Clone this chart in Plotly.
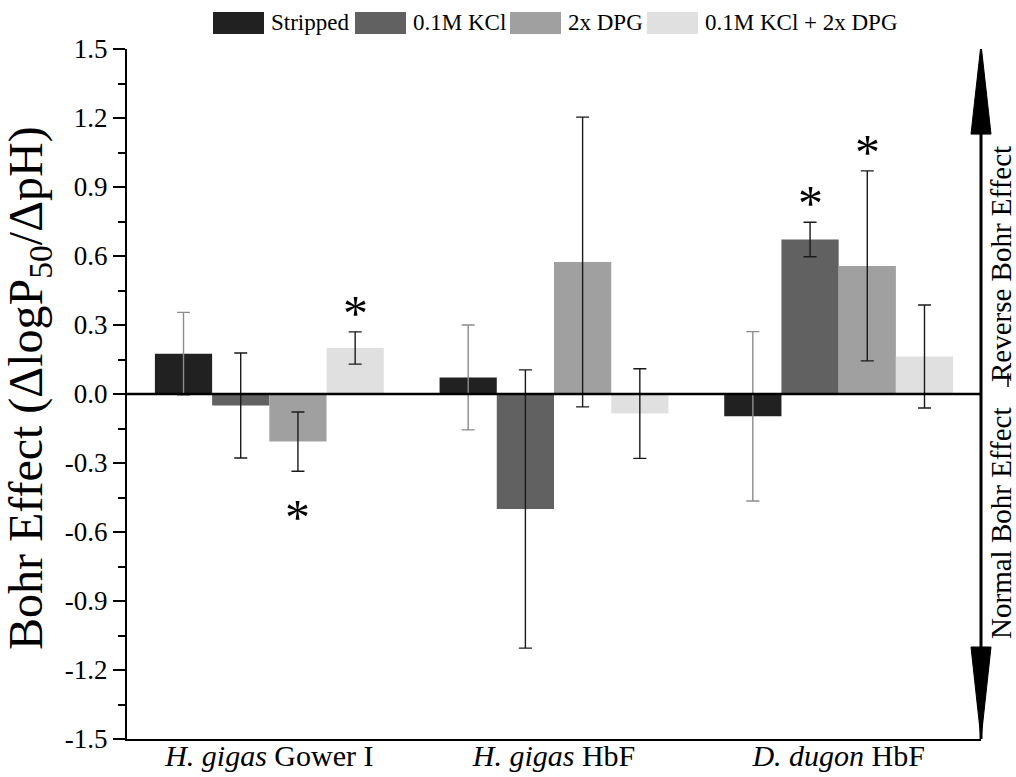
import plotly.graph_objects as go

# ---- data -------------------------------------------------------------
groups = ["<i>H. gigas</i> Gower I", "<i>H. gigas</i> HbF", "<i>D. dugon</i> HbF"]
series = ["Stripped", "0.1M KCl", "2x DPG", "0.1M KCl + 2x DPG"]

stripped = [0.175, 0.072, -0.097]
stripped_err = [0.180, 0.228, 0.368]
kcl = [-0.050, -0.500, 0.672]
kcl_err = [0.228, 0.605, 0.075]
dpg = [-0.207, 0.574, 0.557]
dpg_err = [0.129, 0.630, 0.413]
kcl_dpg = [0.200, -0.085, 0.163]
kcl_dpg_err = [0.070, 0.195, 0.224]

# significance marks: (group index, series index, side of the bar)
significant = [(0, 3, "up"), (0, 2, "down"), (2, 1, "up"), (2, 2, "up")]

y_ticks = [-1.5, -1.2, -0.9, -0.6, -0.3, 0.0, 0.3, 0.6, 0.9, 1.2, 1.5]
y_tick_text = ["-1.5", "-1.2", "-0.9", "-0.6", "-0.3", "0.0", "0.3", "0.6", "0.9", "1.2", "1.5"]

# ---- styling ----------------------------------------------------------
FONT = "Times New Roman, Liberation Serif, Tinos, serif"
fills = ["#212121", "#616161", "#a0a0a0", "#e0e0e0"]
err_colors = ["#8c8c8c", "#1a1a1a", "#1a1a1a", "#1a1a1a"]
values = [stripped, kcl, dpg, kcl_dpg]
errors = [stripped_err, kcl_err, dpg_err, kcl_dpg_err]

W, H = 1016, 777
L, R, T, B = 127, 35, 49, 38
PW, PH = W - L - R, H - T - B
BARGAP = 0.196


def px_x(x):
    return (x - L) / PW


def px_y(y):
    return (H - B - y) / PH


fig = go.Figure()
for name, vals, errs, fill, ecol in zip(series, values, errors, fills, err_colors):
    fig.add_trace(go.Bar(
        name=name, x=groups, y=vals,
        marker=dict(color=fill, line=dict(width=0)),
        error_y=dict(type="data", array=errs, visible=True,
                     color=ecol, thickness=1.4, width=6.5),
        showlegend=False,
    ))

shapes = []
annotations = []

# heavy zero line drawn over the bars
shapes.append(dict(type="line", xref="paper", yref="y", x0=0, x1=1, y0=0, y1=0,
                   line=dict(color="black", width=2.5), layer="above"))

# right-hand double arrow
shapes.append(dict(type="line", xref="paper", yref="y", x0=1, x1=1, y0=-1.5, y1=1.45,
                   line=dict(color="black", width=3), layer="above"))
hw = 10 / PW
shapes.append(dict(type="path", xref="paper", yref="y", layer="above",
                   path=f"M {1 - hw},1.13 L 1,1.52 L {1 + hw},1.13 Z",
                   fillcolor="black", line=dict(color="black", width=1)))
shapes.append(dict(type="path", xref="paper", yref="y", layer="above",
                   path=f"M {1 - hw},-1.10 L 1,-1.50 L {1 + hw},-1.10 Z",
                   fillcolor="black", line=dict(color="black", width=1)))
shapes.append(dict(type="line", xref="paper", yref="y", x0=px_x(1008), x1=px_x(1008),
                   y0=0.03, y1=0.09, line=dict(color="black", width=1.5)))

annotations.append(dict(text="Reverse Bohr Effect", xref="paper", yref="y",
                        x=px_x(1001), y=0.565, textangle=-90, showarrow=False,
                        font=dict(family=FONT, size=29, color="black"),
                        xanchor="center", yanchor="middle"))
annotations.append(dict(text="Normal Bohr Effect", xref="paper", yref="y",
                        x=px_x(1001), y=-0.565, textangle=-90, showarrow=False,
                        font=dict(family=FONT, size=29, color="black"),
                        xanchor="center", yanchor="middle"))

# y-axis title
annotations.append(dict(text="Bohr Effect (ΔlogP<sub>50</sub>/ΔpH)", xref="paper", yref="paper",
                        x=px_x(29), y=px_y(388), textangle=-90, showarrow=False,
                        font=dict(family=FONT, size=48, color="black"),
                        xanchor="center", yanchor="middle"))

# significance asterisks, placed past the end of each error bar
n = len(series)
bw = (1 - BARGAP) / n
for gi, si, side in significant:
    xc = gi + (si - (n - 1) / 2) * bw
    v, e = values[si][gi], errors[si][gi]
    if side == "up":
        y = v + e + 0.125
    else:
        y = v - e - 0.155
    annotations.append(dict(text="*", x=xc, y=y, xref="x", yref="y", showarrow=False,
                            font=dict(family=FONT, size=50, color="black"),
                            xanchor="center", yanchor="middle", yshift=-10))

# legend row across the top
sw_left = [213, 355, 510, 647]
for name, fill, x0 in zip(series, fills, sw_left):
    shapes.append(dict(type="rect", xref="paper", yref="paper",
                       x0=px_x(x0), x1=px_x(x0 + 51), y0=px_y(34), y1=px_y(12),
                       fillcolor=fill, line=dict(width=0)))
    annotations.append(dict(text=name, xref="paper", yref="paper",
                            x=px_x(x0 + 56), y=px_y(23), showarrow=False,
                            font=dict(family=FONT, size=23, color="black"),
                            xanchor="left", yanchor="middle"))

fig.update_layout(
    width=W, height=H,
    margin=dict(l=L, r=R, t=T, b=B, pad=0, autoexpand=False),
    paper_bgcolor="white", plot_bgcolor="white",
    barmode="group", bargap=BARGAP, bargroupgap=0,
    font=dict(family=FONT, color="black"),
    shapes=shapes, annotations=annotations,
    showlegend=False,
)
fig.update_xaxes(
    type="category", range=[-0.5, 2.5], automargin=False,
    showline=True, linecolor="black", linewidth=2,
    ticks="", showgrid=False, zeroline=False,
    ticklabelstandoff=-11,
    tickfont=dict(family=FONT, size=30, color="black"),
)
fig.update_yaxes(
    range=[-1.5, 1.5], tickvals=y_ticks, ticktext=y_tick_text, automargin=False,
    showline=True, linecolor="black", linewidth=2,
    ticks="outside", ticklen=12, tickwidth=2, tickcolor="black",
    minor=dict(ticks="outside", dtick=0.15, ticklen=7, tickwidth=1.5, tickcolor="black"),
    showgrid=False, zeroline=False,
    tickfont=dict(family=FONT, size=27, color="black"),
)

fig.write_html("out.html")
